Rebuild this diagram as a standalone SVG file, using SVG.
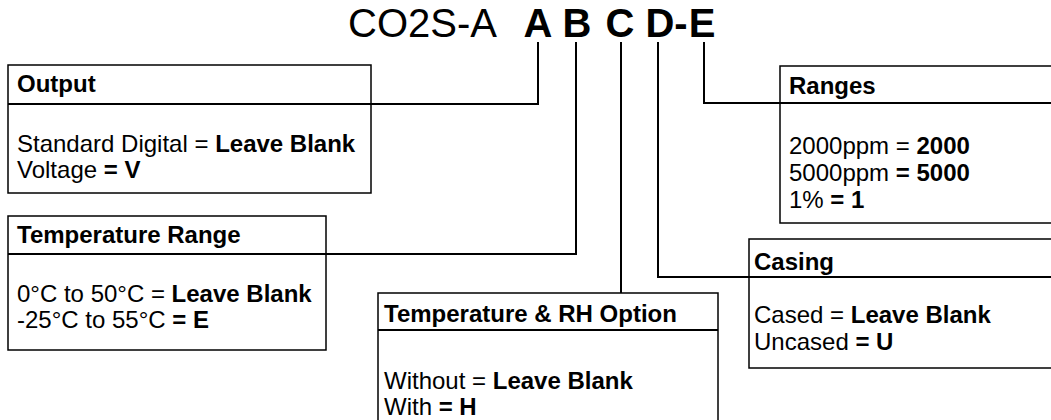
<svg xmlns="http://www.w3.org/2000/svg" width="1051" height="420" viewBox="0 0 1051 420">
<style>
text{font-family:"Liberation Sans",Arial,sans-serif;fill:#000}
.t{font-size:40px}
.b{font-weight:bold}
.f{font-size:24px}
.box{fill:#fff;stroke:#000;stroke-width:1.5}
.ln{fill:none;stroke:#000;stroke-width:2}
</style>
<rect width="1051" height="420" fill="#fff"/>
<g id="title">
<text class="t" x="497" y="37" text-anchor="end">CO2S-A</text>
<text class="t b" x="538" y="37" text-anchor="middle">A</text>
<text class="t b" x="577" y="37" text-anchor="middle">B</text>
<text class="t b" x="620" y="37" text-anchor="middle">C</text>
<text class="t b" x="660" y="37" text-anchor="middle">D</text>
<text class="t b" x="681" y="37" text-anchor="middle">-</text>
<text class="t b" x="702" y="37" text-anchor="middle">E</text>
</g>
<g id="connectors">
<polyline class="ln" points="371,104 538,104 538,42"/>
<polyline class="ln" points="326,254 576,254 576,42"/>
<polyline class="ln" points="621,42 621,293"/>
<polyline class="ln" points="749,277 658,277 658,42"/>
<polyline class="ln" points="780,103 704,103 704,42"/>
</g>
<g id="output">
<rect class="box" x="8" y="65" width="363" height="128"/>
<line class="ln" x1="8" y1="104" x2="371" y2="104"/>
<text class="f b" x="17" y="92">Output</text>
<text class="f" x="17" y="152">Standard Digital = <tspan class="b">Leave Blank</tspan></text>
<text class="f" x="17" y="178">Voltage <tspan class="b">= V</tspan></text>
</g>
<g id="temperature-range">
<rect class="box" x="8" y="216" width="318" height="134"/>
<line class="ln" x1="8" y1="254" x2="326" y2="254"/>
<text class="f b" x="17" y="243">Temperature Range</text>
<text class="f" x="17" y="302">0°C to 50°C = <tspan class="b">Leave Blank</tspan></text>
<text class="f" x="17" y="328">-25°C to 55°C <tspan class="b">= E</tspan></text>
</g>
<g id="temp-rh">
<rect class="box" x="378" y="293" width="340" height="140"/>
<line class="ln" x1="378" y1="330" x2="718" y2="330"/>
<text class="f b" x="384" y="322">Temperature &amp; RH Option</text>
<text class="f" x="384" y="389">Without = <tspan class="b">Leave Blank</tspan></text>
<text class="f" x="384" y="415">With <tspan class="b">= H</tspan></text>
</g>
<g id="ranges">
<rect class="box" x="780" y="66" width="290" height="157"/>
<line class="ln" x1="780" y1="103" x2="1060" y2="103"/>
<text class="f b" x="789" y="94">Ranges</text>
<text class="f" x="789" y="154">2000ppm = <tspan class="b">2000</tspan></text>
<text class="f" x="789" y="181">5000ppm <tspan class="b">= 5000</tspan></text>
<text class="f" x="789" y="208">1% <tspan class="b">= 1</tspan></text>
</g>
<g id="casing">
<rect class="box" x="749" y="239" width="320" height="129"/>
<line class="ln" x1="749" y1="277" x2="1060" y2="277"/>
<text class="f b" x="754" y="270">Casing</text>
<text class="f" x="754" y="323">Cased = <tspan class="b">Leave Blank</tspan></text>
<text class="f" x="754" y="350">Uncased <tspan class="b">= U</tspan></text>
</g>
</svg>
